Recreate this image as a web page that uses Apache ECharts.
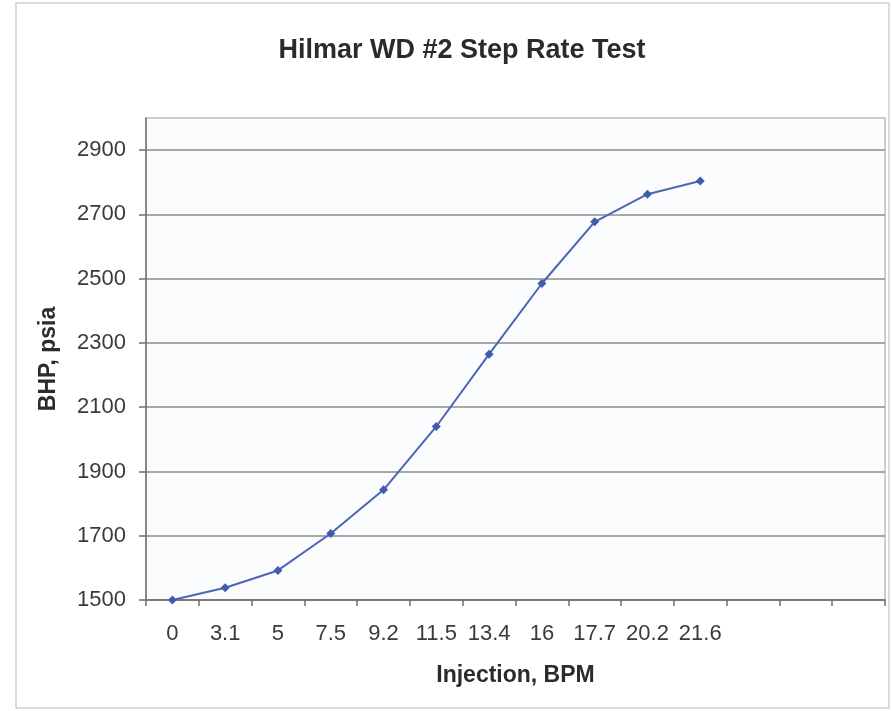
<!DOCTYPE html>
<html>
<head>
<meta charset="utf-8">
<style>
  html, body { margin: 0; padding: 0; background: #ffffff; }
  #chart { width: 893px; height: 711px; }
</style>
<script src="https://cdn.jsdelivr.net/npm/echarts@6/dist/echarts.min.js"></script>
</head>
<body>
<div id="chart"></div>
<script>
// Injection rate steps (BPM); the axis keeps three empty slots on the right
const injectionRates = ['0', '3.1', '5', '7.5', '9.2', '11.5', '13.4', '16', '17.7', '20.2', '21.6', '', '', ''];
// Bottom-hole pressure at each step (psia)
const bhpValues = [1500, 1538, 1592, 1707, 1843, 2040, 2265, 2485, 2677, 2763, 2804];
// Pressure axis range and step
const bhpMin = 1500;
const bhpMax = 3000;
const bhpStep = 200;

const chart = echarts.init(document.getElementById('chart'), null, { renderer: 'canvas' });

const textFont = 'Liberation Sans, Arial, sans-serif';

chart.setOption({
  backgroundColor: '#ffffff',
  animation: false,
  title: {
    text: 'Hilmar WD #2 Step Rate Test',
    left: 457,
    textAlign: 'center',
    top: 32,
    textStyle: { fontFamily: textFont, fontSize: 27, fontWeight: 'bold', color: '#2b2b2b' }
  },
  graphic: [{
    type: 'rect',
    shape: { x: 16, y: 3, width: 873, height: 705 },
    style: { fill: 'none', stroke: '#cfcfcf', lineWidth: 1.5 },
    silent: true,
    z: -1
  }],
  grid: {
    left: 146,
    right: 8,
    top: 118,
    bottom: 111,
    show: true,
    backgroundColor: '#fbfcfe',
    borderColor: '#bdbdbd',
    borderWidth: 1.5
  },
  xAxis: {
    type: 'category',
    data: injectionRates,
    boundaryGap: true,
    name: 'Injection, BPM',
    nameLocation: 'middle',
    nameGap: 64,
    nameTextStyle: { fontFamily: textFont, fontSize: 23, fontWeight: 'bold', color: '#2b2b2b' },
    axisLine: { lineStyle: { color: '#6f6f6f', width: 1.5 } },
    axisTick: { show: true, interval: 0, length: 6, inside: false, lineStyle: { color: '#6f6f6f', width: 1.5 } },
    axisLabel: { interval: 0, margin: 23, fontFamily: textFont, fontSize: 22, color: '#3a3a3a' },
    splitLine: { show: false }
  },
  yAxis: {
    type: 'value',
    min: bhpMin,
    max: bhpMax,
    interval: bhpStep,
    name: 'BHP, psia',
    nameLocation: 'middle',
    nameRotate: 90,
    nameGap: 86,
    nameTextStyle: { fontFamily: textFont, fontSize: 23, fontWeight: 'bold', color: '#2b2b2b' },
    axisLine: { show: true, lineStyle: { color: '#6f6f6f', width: 1.5 } },
    axisTick: { show: true, length: 7, lineStyle: { color: '#6f6f6f', width: 1.5 } },
    axisLabel: {
      margin: 20,
      fontFamily: textFont,
      fontSize: 22,
      color: '#3a3a3a',
      showMaxLabel: false,
      formatter: function (v) { return v >= bhpMax ? '' : String(v); }
    },
    splitLine: { show: true, showMaxLine: false, lineStyle: { color: '#8c8c8c', width: 1.5 } }
  },
  series: [{
    type: 'line',
    data: bhpValues,
    symbol: 'diamond',
    symbolSize: 9,
    smooth: false,
    lineStyle: { color: '#4a66b4', width: 2 },
    itemStyle: { color: '#3f5cae' }
  }]
});
</script>
</body>
</html>
